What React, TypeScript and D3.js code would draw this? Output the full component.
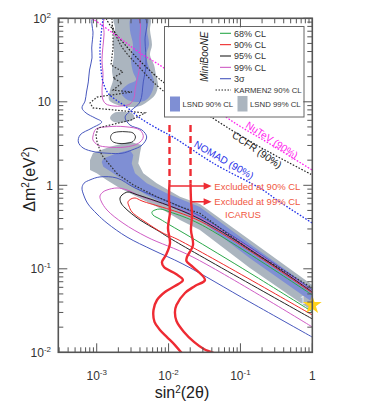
import React from "react";
import * as d3 from "d3";

type P = [number, number];

// ---- axes ----
const X_DOMAIN: [number, number] = [2.92e-4, 1];
const Y_DOMAIN: [number, number] = [0.01, 100];
const xTickValues = [1e-3, 1e-2, 1e-1, 1];
const xTickLabels: [string, string][] = [["10", "-3"], ["10", "-2"], ["10", "-1"], ["1", ""]];
const yTickValues = [100, 10, 1, 0.1, 0.01];
const yTickLabels: [string, string][] = [["10", "2"], ["10", ""], ["1", ""], ["10", "-1"], ["10", "-2"]];

// ---- LSND allowed regions ----
const lsnd99Upper: P[] = [[1.74e-3,100],[5.51e-3,100],[5.51e-3,72.4],[5.87e-3,47.9],[5.51e-3,36.3],[6.27e-3,27.6],[6.68e-3,20.96],[7.12e-3,15.9],[6.47e-3,12.05],[5.01e-3,9.95],[4.0e-3,8.92],[2.72e-3,8.68],[1.797e-3,9.42],[1.483e-3,10.5],[1.531e-3,13.8],[1.686e-3,18.2],[1.63e-3,24.0],[1.74e-3,36.3],[1.686e-3,55.0],[1.797e-3,76.5]];
const lsnd99Neck: P[] = [[1.531e-3,6.40],[1.74e-3,7.35],[2.48e-3,7.55],[3.2e-3,7.15],[3.3e-3,6.22],[2.56e-3,5.73],[1.74e-3,5.73]];
const lsnd99Lower: P[] = [[8.07e-4,2.01],[8.88e-4,2.44],[1.531e-3,2.90],[2.90e-3,3.33],[4.22e-3,3.03],[4.0e-3,2.44],[3.79e-3,1.83],[4.45e-3,1.39],[6.83e-3,1.06],[0.01442,0.730],[0.0273,0.597],[0.1355,0.221],[1,0.064],[1,0.0312],[0.1355,0.102],[0.0273,0.291],[0.01442,0.384],[8.44e-3,0.506],[4.0e-3,0.698],[2.11e-3,0.920],[1.377e-3,1.16],[1.0e-3,1.39],[8.07e-4,1.52]];
const lsnd90Upper: P[] = [[3.0e-3,100],[5.17e-3,100],[5.01e-3,72.4],[5.34e-3,47.9],[4.85e-3,36.3],[5.51e-3,24.0],[6.27e-3,17.3],[5.87e-3,13.1],[4.85e-3,10.5],[3.52e-3,9.95],[2.56e-3,10.8],[2.18e-3,13.1],[2.64e-3,15.9],[3.52e-3,18.2],[3.2e-3,22.8],[3.0e-3,31.7],[3.2e-3,47.9],[2.9e-3,72.4]];
const lsnd90Lower: P[] = [[1.174e-3,1.90],[1.235e-3,2.10],[1.897e-3,2.42],[2.90e-3,2.65],[3.23e-3,2.31],[3.07e-3,1.83],[3.41e-3,1.39],[4.96e-3,1.06],[9.41e-3,0.802],[0.0273,0.550],[0.1355,0.198],[1,0.0573],[1,0.040],[0.1355,0.134],[0.0273,0.384],[9.41e-3,0.581],[4.96e-3,0.766],[2.90e-3,1.01],[1.70e-3,1.39],[1.235e-3,1.67]];

// ---- MiniBooNE contours ----
const mb3sigmaUpper: P[] = [[8.88e-4,100],[8.60e-4,83.2],[8.88e-4,68.5],[8.52e-4,44.1],[8.60e-4,33.5],[7.94e-4,24.0],[7.64e-4,17.3],[7.21e-4,13.1],[6.88e-4,10.2],[6.24e-4,8.44],[7.10e-4,7.35],[9.47e-4,6.40],[1.174e-3,5.73],[8.60e-4,4.85],[5.86e-4,4.00],[5.55e-4,3.30],[6.45e-4,2.80],[9.47e-4,2.51],[1.436e-3,2.42],[2.25e-3,2.42],[3.10e-3,2.65],[4.27e-3,3.03],[4.96e-3,3.79],[4.27e-3,4.59],[2.90e-3,5.27],[2.48e-3,6.58],[3.07e-3,7.98],[4.0e-3,9.95],[4.45e-3,17.3],[4.85e-3,27.6],[4.70e-3,55.0],[4.70e-3,100]];
const mb3sigmaLower: P[] = [[1,0.0557],[0.0273,0.429],[3.41e-3,0.929],[1.915e-3,1.22],[1.11e-3,1.26],[8.07e-4,1.16],[6.66e-4,1.06],[6.24e-4,0.929],[6.66e-4,0.745],[7.57e-4,0.597],[1.01e-3,0.453],[1.39e-3,0.353],[2.64e-3,0.240],[6.07e-3,0.1675],[0.01585,0.114],[0.1355,0.040],[1,0.0152]];
const mb99Upper: P[] = [[1.305e-3,100],[1.264e-3,63.1],[1.185e-3,31.7],[1.224e-3,20.96],[1.185e-3,13.8],[1.224e-3,10.5],[1.347e-3,9.42],[1.686e-3,8.92],[2.25e-3,8.92],[2.90e-3,9.42],[3.30e-3,11.1],[3.41e-3,13.8],[3.64e-3,18.2],[4.0e-3,27.6],[4.0e-3,55.0],[3.75e-3,100]];
const mb99Island: P[] = [[8.88e-4,3.89],[9.78e-4,4.72],[1.436e-3,5.03],[2.48e-3,5.03],[4.0e-3,4.59],[4.45e-3,3.79],[3.79e-3,3.18],[2.48e-3,2.87],[1.436e-3,2.87],[1.04e-3,3.03],[8.88e-4,3.48]];
const mb99Lower: P[] = [[1,0.0542],[0.0273,0.406],[4.0e-3,0.745],[2.64e-3,0.879],[1.915e-3,0.929],[1.39e-3,0.879],[1.224e-3,0.832],[1.11e-3,0.745],[1.15e-3,0.649],[1.39e-3,0.506],[2.32e-3,0.353],[5.01e-3,0.240],[0.02185,0.138],[1,0.0201]];
const mb95Island: P[] = [[1.556e-3,3.73],[1.658e-3,4.17],[1.98e-3,4.37],[2.64e-3,4.37],[3.20e-3,4.23],[3.46e-3,3.79],[3.20e-3,3.35],[2.56e-3,3.18],[1.98e-3,3.18],[1.658e-3,3.35]];
const mb95Lower: P[] = [[1,0.0527],[0.0273,0.394],[3.41e-3,0.787],[2.72e-3,0.832],[2.25e-3,0.766],[2.11e-3,0.705],[2.18e-3,0.614],[2.48e-3,0.535],[4.0e-3,0.384],[6.90e-3,0.291],[0.01151,0.221],[1,0.0251]];
const mb90Lower: P[] = [[1,0.0513],[0.0273,0.373],[4.27e-3,0.649],[3.41e-3,0.705],[3.0e-3,0.686],[2.72e-3,0.631],[2.81e-3,0.565],[3.10e-3,0.479],[5.01e-3,0.353],[8.36e-3,0.268],[0.01309,0.227],[1,0.028]];
const mb68Lower: P[] = [[1,0.0485],[0.0273,0.344],[0.01046,0.479],[7.59e-3,0.520],[6.47e-3,0.506],[5.87e-3,0.479],[6.07e-3,0.441],[7.59e-3,0.394],[0.01046,0.334],[0.01985,0.242],[0.1355,0.0891],[1,0.0306]];

// ---- other experiments ----
const karmen: P[] = [[1.63e-3,100],[1.686e-3,63.1],[1.686e-3,44.1],[1.58e-3,27.6],[2.32e-3,22.8],[1.686e-3,19.3],[2.25e-3,16.8],[1.686e-3,13.8],[3.10e-3,13.1],[1.01e-3,11.4],[8.07e-4,9.68],[8.88e-4,8.44],[4.70e-3,7.35],[3.0e-3,6.05],[1.531e-3,5.27],[1.04e-3,4.85],[9.78e-4,4.0],[1.01e-3,3.30],[1.174e-3,2.31],[1.897e-3,1.39],[3.23e-3,1.01],[6.83e-3,0.730],[0.01442,0.555],[0.0273,0.462],[0.1355,0.1675],[1,0.0589]];
const karmenBranch: P[] = [[1.63e-3,83.2],[1.98e-3,55.0],[2.40e-3,41.7],[4.0e-3,25.4],[6.07e-3,17.3],[8.77e-3,13.1]];
const ccfr: P[] = [[1.347e-3,100],[1.686e-3,72.4],[2.64e-3,45.3],[4.0e-3,30.8],[6.90e-3,19.8],[8.77e-3,16.8],[4.18e-2,6.34],[0.1866,2.88],[1,1.33]];
const nutev: P[] = [[8.60e-4,100],[1.531e-3,70.5],[2.48e-3,52.0],[4.0e-3,38.4],[8.63e-3,25.4],[6.43e-2,6.49],[0.257,3.13],[1,1.52]];
const nomad: P[] = [[1.224e-3,100],[1.15e-3,63.1],[1.11e-3,41.7],[1.15e-3,24.0],[1.224e-3,17.3],[1.436e-3,12.7],[1.855e-3,10.5],[2.48e-3,8.92],[4.0e-3,6.40],[7.59e-3,4.59],[0.01151,3.79],[4.14e-2,1.85],[0.2055,0.879],[0.322,0.667],[1,0.353]];

// ---- ICARUS ----
const icarus90Dashed: P[] = [[0.0103,5.27],[0.0103,1.06]];
const icarus90: P[] = [[0.0103,1.06],[0.01013,0.667],[0.01046,0.479],[9.81e-3,0.308],[0.01046,0.203],[9.2e-3,0.146],[8.09e-3,0.1205],[8.63e-3,0.105],[0.01268,0.0867],[0.01585,0.0734],[0.01227,0.0622],[8.91e-3,0.0527],[6.90e-3,0.0423],[6.17e-3,0.0321],[6.37e-3,0.0231],[7.59e-3,0.0185],[9.50e-3,0.0152],[0.01227,0.0122],[0.01521,0.0098]];
const icarus99Dashed: P[] = [[0.0202,5.27],[0.0202,1.06]];
const icarus99: P[] = [[0.0202,1.06],[0.0205,0.667],[0.02116,0.441],[0.0205,0.291],[0.02185,0.192],[0.018,0.138],[0.01774,0.124],[0.02185,0.105],[0.0321,0.0734],[0.0233,0.0622],[0.01692,0.0513],[0.01288,0.0368],[0.01227,0.0304],[0.01288,0.0237],[0.01637,0.0175],[0.02255,0.0133],[0.031,0.01094],[0.0428,0.0098]];
const arrowEndX = 0.0397;
const arrow90Y = 0.98;
const arrow99Y = 0.635;
const bestFit: P = [1, 0.0368];

const C = {
  gray: "#abb5bf",
  blue: "#7f8fd4",
  c68: "#2aa84a",
  c90: "#ee2a2a",
  c95: "#222222",
  c99: "#cf5cc4",
  c3s: "#4757bd",
  icarus: "#ee2b33",
  annot: "#f0583f",
  nutev: "#ff22ee",
  nomad: "#1f2fe8",
  axis: "#555555",
  text: "#333333",
};

const FONT = "'Liberation Sans', Arial, Helvetica, sans-serif";

export default function App() {
  const L = 58.3, T = 18.3, R = 312.3, B = 352.3;
  const x = d3.scaleLog().domain(X_DOMAIN).range([L, R]);
  const y = d3.scaleLog().domain(Y_DOMAIN).range([B, T]);
  const lin = d3.line<P>().x((d) => x(d[0])).y((d) => y(d[1]));
  const smooth = d3.line<P>().x((d) => x(d[0])).y((d) => y(d[1])).curve(d3.curveCatmullRom.alpha(0.5));
  const smoothClosed = d3.line<P>().x((d) => x(d[0])).y((d) => y(d[1])).curve(d3.curveCatmullRomClosed.alpha(0.5));
  const linClosed = d3.line<P>().x((d) => x(d[0])).y((d) => y(d[1])).curve(d3.curveLinearClosed);

  const xTicks = x.ticks();
  const yTicks = y.ticks();
  const isMajor = (v: number) => Math.abs(Math.log10(v) - Math.round(Math.log10(v))) < 1e-6;

  const star = d3.symbol().type(d3.symbolStar).size(110)() as string;

  const arrow = (x0: number, x1: number, yy: number, key: string) => {
    const px0 = x(x0), px1 = x(x1), py = y(yy);
    return (
      <g key={key}>
        <line x1={px0} x2={px1 - 6} y1={py} y2={py} stroke={C.icarus} strokeWidth={1.4} />
        <path d={`M${px1},${py} L${px1 - 8},${py - 3.6} L${px1 - 8},${py + 3.6} Z`} fill={C.icarus} />
      </g>
    );
  };

  const legendRows = [
    { label: "68% CL", color: C.c68 },
    { label: "90% CL", color: C.c90 },
    { label: "95% CL", color: C.c95 },
    { label: "99% CL", color: C.c99 },
    { label: "3σ", color: C.c3s },
  ];

  return (
    <svg width={374} height={405} style={{ position: "absolute", left: 0, top: 0, background: "#fff" }} fontFamily={FONT}>
      <defs>
        <clipPath id="plotClip">
          <rect x={L} y={T} width={R - L} height={B - T} />
        </clipPath>
      </defs>
      <g clipPath="url(#plotClip)">
        {/* LSND */}
        <path d={smoothClosed(lsnd99Upper)!} fill={C.gray} />
        <path d={smoothClosed(lsnd99Neck)!} fill={C.gray} />
        <path d={linClosed(lsnd99Lower)!} fill={C.gray} />
        <path d={smoothClosed(lsnd90Upper)!} fill={C.blue} />
        <path d={linClosed(lsnd90Lower)!} fill={C.blue} />

        {/* MiniBooNE */}
        <path d={smoothClosed(mb3sigmaUpper)!} fill="none" stroke={C.c3s} strokeWidth={1} />
        <path d={smooth(mb3sigmaLower)!} fill="none" stroke={C.c3s} strokeWidth={1} />
        <path d={smoothClosed(mb99Upper)!} fill="none" stroke={C.c99} strokeWidth={1} />
        <path d={smoothClosed(mb99Island)!} fill="none" stroke={C.c99} strokeWidth={1} />
        <path d={smooth(mb99Lower)!} fill="none" stroke={C.c99} strokeWidth={1} />
        <path d={smoothClosed(mb95Island)!} fill="none" stroke={C.c95} strokeWidth={0.9} />
        <path d={smooth(mb95Lower)!} fill="none" stroke={C.c95} strokeWidth={1} />
        <path d={smooth(mb90Lower)!} fill="none" stroke={C.c90} strokeWidth={1} />
        <path d={smooth(mb68Lower)!} fill="none" stroke={C.c68} strokeWidth={1} />

        {/* other experiments */}
        <path d={lin(karmen)!} fill="none" stroke="#333" strokeWidth={1.2} strokeDasharray="1.6,1.6" />
        <path d={smooth(karmenBranch)!} fill="none" stroke="#333" strokeWidth={1.2} strokeDasharray="1.6,1.6" />
        <path d={smooth(ccfr)!} fill="none" stroke="#222" strokeWidth={1.2} strokeDasharray="1.6,1.6" />
        <path d={smooth(nutev)!} fill="none" stroke={C.nutev} strokeWidth={1.3} strokeDasharray="1.6,1.6" />
        <path d={smooth(nomad)!} fill="none" stroke={C.nomad} strokeWidth={1.3} strokeDasharray="1.6,1.6" />

        {/* ICARUS */}
        <path d={lin(icarus90Dashed)!} fill="none" stroke={C.icarus} strokeWidth={2.4} strokeDasharray="7,4" />
        <path d={lin(icarus99Dashed)!} fill="none" stroke={C.icarus} strokeWidth={2.4} strokeDasharray="7,4" />
        <path d={smooth(icarus90)!} fill="none" stroke={C.icarus} strokeWidth={2.4} />
        <path d={smooth(icarus99)!} fill="none" stroke={C.icarus} strokeWidth={2.4} />
        {arrow(icarus90Dashed[1][0], arrowEndX, arrow90Y, "a90")}
        {arrow(icarus99Dashed[1][0], arrowEndX, arrow99Y, "a99")}

        <text x={x(bestFit[0]) - 9.5} y={y(bestFit[1]) - 1} fontSize={10} fill="#e8ecf5" textAnchor="middle">1</text>
      </g>
      <path d={star} transform={`translate(${x(bestFit[0])},${y(bestFit[1])})`} fill="#ffd21a" />

      {/* annotations */}
      <text x={x(0.274)} y={y(3.49)} fontSize={10} fill={C.nutev} textAnchor="middle" dominantBaseline="central" transform={`rotate(33 ${x(0.274)} ${y(3.49)})`}>NuTeV (90%)</text>
      <text x={x(0.1695)} y={y(2.65)} fontSize={10} fill="#222" textAnchor="middle" dominantBaseline="central" transform={`rotate(34 ${x(0.1695)} ${y(2.65)})`}>CCFR (90%)</text>
      <text x={x(0.0589)} y={y(2.01)} fontSize={10} fill={C.nomad} textAnchor="middle" dominantBaseline="central" transform={`rotate(30 ${x(0.0589)} ${y(2.01)})`}>NOMAD (90%)</text>
      <text x={x(0.0433)} y={y(arrow90Y) + 3.5} fontSize={9.5} fill={C.annot}>Excluded at 90% CL</text>
      <text x={x(0.0433)} y={y(arrow99Y) + 3.5} fontSize={9.5} fill={C.annot}>Excluded at 99% CL</text>
      <text x={x(0.1084)} y={y(0.441) + 3.5} fontSize={9.5} fill={C.annot} textAnchor="middle">ICARUS</text>

      {/* legend */}
      <g>
        <rect x={164.5} y={26.5} width={139.5} height={90.5} fill="#fff" stroke="#666" strokeWidth={1} />
        <text x={205} y={56.7} fontSize={10} fontStyle="italic" fill="#222" textAnchor="middle" dominantBaseline="central" transform="rotate(-90 205 56.7)">MiniBooNE</text>
        {legendRows.map((r, i) => (
          <g key={r.label}>
            <line x1={220} x2={231} y1={33.3 + i * 11.35} y2={33.3 + i * 11.35} stroke={r.color} strokeWidth={1.1} />
            <text x={234} y={33.3 + i * 11.35 + 3.3} fontSize={9} fill="#333">{r.label}</text>
          </g>
        ))}
        <line x1={215.5} x2={231} y1={90} y2={90} stroke="#222" strokeWidth={1} strokeDasharray="1.5,1.5" />
        <text x={234} y={92.8} fontSize={7.8} fill="#333">KARMEN2 90% CL</text>
        <rect x={170} y={96.5} width={10} height={15} fill={C.blue} />
        <text x={182.5} y={106.8} fontSize={7.8} fill="#333">LSND 90% CL</text>
        <rect x={237.5} y={96} width={10} height={15.5} fill={C.gray} />
        <text x={250} y={106.8} fontSize={7.8} fill="#333">LSND 99% CL</text>
      </g>

      {/* axes frame and ticks */}
      <g stroke={C.axis}>
        {xTicks.map((v, i) => {
          const len = isMajor(v) ? 9 : 5;
          const px = x(v);
          return (
            <g key={"xt" + i}>
              <line x1={px} x2={px} y1={B} y2={B - len} strokeWidth={1} />
              <line x1={px} x2={px} y1={T} y2={T + len} strokeWidth={1} />
            </g>
          );
        })}
        {yTicks.map((v, i) => {
          const len = isMajor(v) ? 9 : 5;
          const py = y(v);
          return (
            <g key={"yt" + i}>
              <line x1={L} x2={L + len} y1={py} y2={py} strokeWidth={1} />
              <line x1={R} x2={R - len} y1={py} y2={py} strokeWidth={1} />
            </g>
          );
        })}
        <rect x={L} y={T} width={R - L} height={B - T} fill="none" strokeWidth={1.6} />
      </g>

      {xTickValues.map((v, i) => (
        <text key={"xl" + i} x={x(v)} y={380} fontSize={12} fill={C.text} textAnchor="middle">
          {xTickLabels[i][0]}
          {xTickLabels[i][1] && <tspan fontSize={8} dy={-5}>{xTickLabels[i][1]}</tspan>}
        </text>
      ))}
      {yTickValues.map((v, i) => (
        <text key={"yl" + i} x={yTickLabels[i][0] === "1" ? 53 : 51} y={y(v) + 4.3} fontSize={12} fill={C.text} textAnchor="end">
          {yTickLabels[i][0]}
          {yTickLabels[i][1] && <tspan fontSize={8} dy={-5}>{yTickLabels[i][1]}</tspan>}
        </text>
      ))}

      <text x={182} y={398} fontSize={16} fill="#222" textAnchor="middle">
        sin<tspan fontSize={10} dy={-5}>2</tspan><tspan dy={5}>(2θ)</tspan>
      </text>
      <text x={0} y={0} fontSize={16} fill="#222" textAnchor="middle" transform="translate(35,179) rotate(-90)">
        Δm<tspan fontSize={10} dy={-6}>2</tspan><tspan dy={6}>(eV</tspan><tspan fontSize={10} dy={-6}>2</tspan><tspan dy={6}>)</tspan>
      </text>
    </svg>
  );
}
